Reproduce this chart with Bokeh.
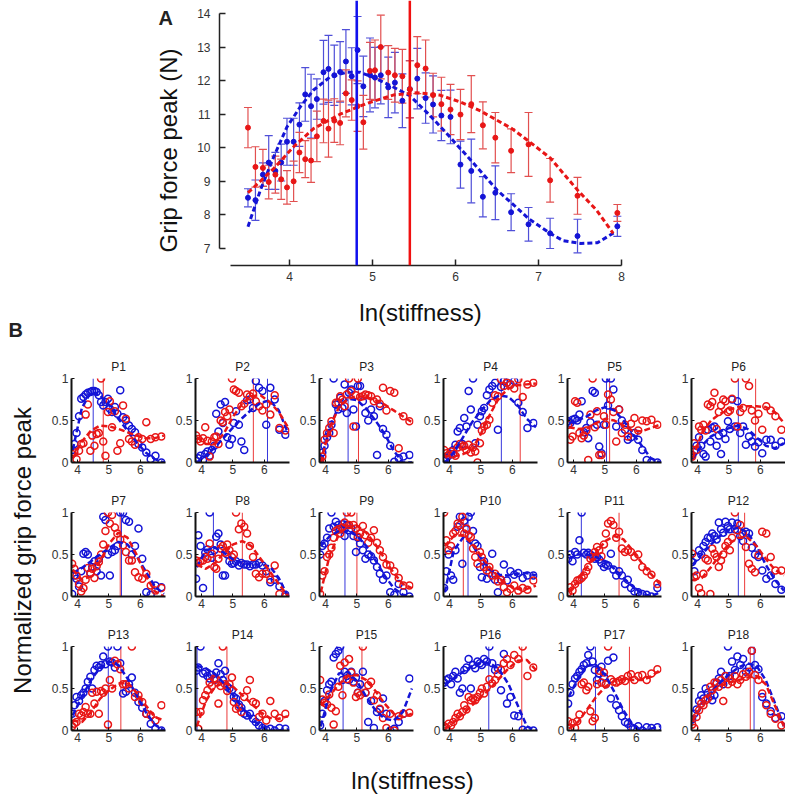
import math
from bokeh.plotting import figure
from bokeh.layouts import column, row
from bokeh.models import (Range1d, Label, Whisker, TeeHead, ColumnDataSource, Span,
                          FixedTicker, NumeralTickFormatter)
from bokeh.embed import file_html
from bokeh.resources import INLINE

FONT = "Liberation Sans"
BLUE = "#1414d6"
RED = "#e81616"
BLUE_BAR = "#4f4fd8"
RED_BAR = "#e25050"
AXIS = "#222222"

# ---------------- Panel A data ----------------
xa = [3.50, 3.59, 3.68, 3.75, 3.83, 3.90, 3.97, 4.05, 4.12, 4.19, 4.26, 4.33, 4.41, 4.47,
      4.54, 4.61, 4.68, 4.75, 4.82, 4.89, 4.97, 5.03, 5.10, 5.19, 5.27, 5.36, 5.45, 5.54,
      5.64, 5.73, 5.83, 5.94, 6.06, 6.19, 6.33, 6.48, 6.67, 6.88, 7.14, 7.47, 7.95]
ya_blue = [8.51, 8.44, 9.20, 9.56, 9.31, 9.56, 10.18, 10.18, 10.69, 11.59, 11.24, 11.45, 12.25,
           12.35, 12.16, 12.26, 12.57, 12.13, 12.91, 11.83, 12.17, 12.09, 12.16, 11.80, 11.94,
           11.40, 11.75, 12.06, 11.48, 11.29, 10.96, 10.92, 9.50, 9.31, 8.54, 8.66, 8.08, 7.72,
           7.45, 7.37, 7.66]
ea_blue = [0.27, 0.60, 0.35, 0.80, 0.55, 0.55, 0.70, 0.70, 0.65, 0.80, 0.95, 0.60, 0.95, 1.00,
           0.90, 0.90, 0.95, 0.85, 1.00, 0.90, 1.10, 0.90, 0.85, 0.90, 0.90, 0.80, 0.85, 0.90,
           0.75, 0.85, 0.75, 0.80, 0.70, 0.95, 0.60, 0.80, 0.55, 0.50, 0.45, 0.50, 0.30]
ya_red = [10.60, 9.43, 9.40, 8.98, 9.20, 9.06, 8.82, 9.00, 9.86, 9.66, 9.62, 10.34, 10.80, 10.57,
          10.81, 10.74, 11.62, 11.42, 11.24, 10.76, 12.29, 12.31, 13.00, 12.24, 12.16, 12.13,
          11.74, 12.46, 12.36, 11.57, 11.30, 11.14, 10.99, 11.30, 10.67, 10.30, 9.91, 10.10,
          9.03, 8.57, 8.06]
ea_red = [0.60, 0.60, 0.55, 0.50, 0.55, 0.60, 0.50, 0.60, 0.60, 0.55, 0.65, 0.75, 0.65, 0.85,
          0.65, 0.65, 0.70, 0.60, 0.75, 0.80, 0.85, 0.90, 0.95, 0.80, 0.80, 0.80, 0.85, 0.85,
          0.85, 0.65, 0.80, 0.75, 0.75, 0.85, 0.70, 0.75, 0.65, 0.95, 0.65, 0.55, 0.25]
fitA_blue_x = [3.50, 3.65, 3.81, 3.97, 4.13, 4.29, 4.49, 4.69, 4.85, 5.01, 5.25, 5.45, 5.69,
               5.93, 6.22, 6.50, 6.70, 6.88, 7.14, 7.30, 7.51, 7.71, 7.93]
fitA_blue_y = [7.65, 8.74, 9.73, 10.62, 11.22, 11.72, 12.11, 12.25, 12.25, 12.10, 11.81, 11.55,
               10.97, 10.33, 9.53, 8.74, 8.30, 7.89, 7.45, 7.23, 7.15, 7.17, 7.50]
fitA_red_x = [3.50, 3.81, 4.05, 4.29, 4.61, 4.93, 5.25, 5.53, 5.81, 6.05, 6.30, 6.50, 6.68,
              6.88, 7.14, 7.47, 7.70, 7.90]
fitA_red_y = [8.66, 9.38, 10.03, 10.57, 11.00, 11.32, 11.57, 11.64, 11.57, 11.37, 11.10, 10.82,
              10.57, 10.20, 9.70, 8.74, 8.14, 7.45]
peakA_blue = 4.81
peakA_red = 5.45
xa_ticks = [4, 5, 6, 7, 8]
ya_ticks = [7, 8, 9, 10, 11, 12, 13, 14]

# ---------------- Panel B data ----------------
titles = ["P%d" % k for k in range(1, 19)]
xb = [3.83, 3.90, 3.97, 4.05, 4.12, 4.19, 4.26, 4.33, 4.41, 4.47, 4.54, 4.61, 4.68, 4.75,
      4.82, 4.89, 4.97, 5.03, 5.10, 5.19, 5.27, 5.36, 5.45, 5.54, 5.64, 5.73, 5.83, 5.94,
      6.06, 6.19, 6.33, 6.48, 6.67]
fit_x = [3.85, 4.14, 4.43, 4.72, 5.01, 5.30, 5.59, 5.88, 6.17, 6.46, 6.75]
xb_ticks = [4, 5, 6]
yb_ticks = [0, 0.5, 1]

p1_blue = [0.15, 0.22, 0.35, 0.55, 0.76, 0.78, 0.81, 0.83, 0.84, 0.85, 0.85, 0.84, 0.80, 0.72, 0.68, 0.72, 0.76, 0.64, 0.60, 0.66, 0.58, 0.86, 0.54, 0.50, 0.44, 0.40, 0.36, 0.22, 0.18, 0.12, 0.04, 0.08, 0.00]
p1_red = [0.10, 0.12, 0.04, 0.14, 0.22, 0.23, 0.57, 0.69, 0.14, 0.32, 0.20, 0.34, 0.35, 1.00, 0.25, 0.08, 0.60, 0.73, 0.42, 0.61, 0.14, 0.23, 0.68, 0.52, 0.28, 0.25, 0.21, 0.30, 0.28, 0.48, 0.28, 0.30, 0.31]
p2_blue = [0.02, 0.05, 0.08, 0.03, 0.10, 0.13, 0.08, 0.15, 0.20, 0.58, 0.37, 0.69, 0.47, 0.72, 0.30, 0.21, 0.28, 0.47, 0.61, 0.45, 0.25, 0.15, 0.74, 0.75, 0.65, 0.97, 0.89, 0.85, 0.45, 0.89, 0.75, 0.39, 0.33]
p2_red = [0.32, 0.28, 0.25, 0.29, 0.42, 0.26, 0.07, 0.25, 0.30, 0.31, 0.22, 0.50, 0.48, 0.60, 0.55, 0.63, 1.00, 0.87, 0.85, 0.83, 0.67, 0.70, 0.81, 0.79, 0.82, 0.73, 0.67, 0.62, 0.69, 0.57, 0.80, 0.41, 0.38]
p3_blue = [0.05, 0.12, 0.20, 0.30, 0.35, 0.45, 1.00, 0.69, 0.63, 0.77, 0.65, 0.93, 0.59, 0.83, 0.87, 0.63, 0.43, 0.91, 0.91, 0.73, 0.59, 0.50, 0.63, 0.55, 0.09, 0.67, 0.40, 0.33, 0.20, 0.01, 0.05, 0.07, 0.09]
p3_red = [0.03, 0.07, 0.27, 0.35, 0.41, 0.49, 0.35, 0.71, 0.71, 0.79, 0.75, 0.67, 0.81, 1.00, 0.85, 0.43, 0.80, 1.00, 0.78, 0.79, 0.81, 0.80, 0.79, 0.73, 0.75, 0.70, 0.89, 0.62, 0.85, 0.83, 0.17, 0.55, 0.49]
p4_blue = [0.02, 0.05, 0.08, 0.10, 0.15, 0.21, 0.37, 0.41, 0.22, 0.53, 0.43, 0.85, 0.63, 1.00, 0.23, 0.45, 0.55, 0.61, 0.65, 0.80, 0.87, 0.91, 0.95, 0.39, 0.90, 0.97, 0.95, 0.93, 0.97, 0.71, 0.60, 0.41, 0.47]
p4_red = [0.15, 0.11, 0.09, 0.13, 0.10, 0.08, 0.18, 0.22, 0.19, 0.20, 0.15, 0.21, 0.12, 0.18, 0.13, 0.00, 0.23, 0.38, 0.43, 0.45, 0.51, 0.71, 0.80, 0.79, 0.99, 0.91, 0.95, 0.93, 0.88, 0.99, 0.78, 0.93, 0.95]
p5_blue = [0.49, 0.47, 0.51, 0.52, 0.50, 0.57, 0.73, 0.36, 0.41, 0.29, 0.48, 0.85, 0.83, 0.45, 0.19, 0.11, 0.45, 1.00, 0.68, 1.00, 0.87, 0.43, 0.63, 0.50, 0.39, 0.27, 0.30, 0.35, 0.27, 0.15, 0.03, 0.01, 0.00]
p5_red = [0.45, 0.27, 0.31, 0.73, 0.71, 0.35, 0.29, 0.32, 0.38, 0.03, 0.57, 1.00, 0.42, 0.61, 0.09, 0.09, 0.55, 0.45, 0.81, 0.75, 0.60, 0.25, 0.63, 0.35, 0.45, 0.31, 0.46, 0.53, 0.38, 0.50, 0.49, 0.51, 0.45]
p6_blue = [0.09, 0.13, 0.20, 0.30, 0.20, 0.10, 0.07, 0.39, 0.25, 0.41, 0.43, 0.20, 0.32, 0.10, 0.35, 0.28, 0.49, 0.40, 0.75, 0.43, 0.73, 0.35, 0.43, 0.21, 0.31, 0.25, 0.19, 0.24, 0.11, 0.27, 0.27, 0.20, 0.25]
p6_red = [0.07, 0.23, 0.15, 0.43, 0.39, 0.45, 0.38, 0.69, 0.67, 0.72, 0.83, 0.40, 0.60, 0.68, 0.75, 0.73, 0.60, 0.62, 0.76, 1.00, 0.43, 0.60, 0.65, 1.00, 0.91, 0.62, 0.50, 0.58, 0.39, 0.67, 0.62, 0.55, 0.39]
p7_blue = [0.03, 0.25, 0.21, 0.12, 0.30, 0.51, 0.53, 0.50, 0.28, 0.35, 0.42, 0.30, 0.45, 0.25, 0.95, 0.91, 0.50, 0.25, 0.53, 0.55, 0.60, 1.00, 1.00, 0.91, 0.89, 0.50, 0.60, 0.81, 0.45, 0.05, 0.02, 0.13, 0.11]
p7_red = [0.39, 0.33, 0.25, 0.15, 0.06, 0.10, 0.20, 0.34, 0.27, 0.33, 0.22, 0.36, 0.41, 0.50, 0.62, 0.78, 1.00, 0.87, 0.97, 0.82, 0.75, 0.68, 0.61, 0.53, 0.43, 0.43, 0.29, 0.23, 0.21, 0.27, 0.13, 0.07, 0.10]
p8_blue = [0.21, 0.73, 0.60, 0.10, 0.52, 0.56, 1.00, 0.46, 0.55, 0.71, 0.75, 0.62, 0.25, 0.25, 0.50, 0.42, 0.39, 0.40, 0.42, 0.37, 0.40, 0.38, 0.38, 0.36, 0.38, 0.38, 0.40, 0.37, 0.30, 0.17, 0.20, 0.12, 0.02]
p8_red = [0.43, 0.40, 0.42, 0.43, 0.47, 0.45, 0.63, 0.51, 0.35, 0.33, 0.45, 0.57, 0.60, 0.52, 0.62, 0.55, 0.47, 0.50, 1.00, 0.80, 0.87, 0.83, 0.75, 0.60, 0.47, 0.27, 0.23, 0.27, 0.27, 0.20, 0.37, 0.03, 0.00]
p9_blue = [0.50, 0.60, 0.63, 0.70, 0.81, 1.00, 0.83, 0.89, 0.85, 0.80, 0.86, 0.72, 0.85, 0.79, 0.81, 0.72, 0.53, 0.70, 0.63, 0.55, 0.45, 0.50, 0.48, 0.43, 0.35, 0.27, 0.20, 0.25, 0.05, 0.02, 0.15, 0.05, 0.00]
p9_red = [0.03, 0.25, 0.30, 0.47, 0.50, 0.58, 0.70, 0.78, 0.80, 0.75, 0.82, 0.88, 1.00, 0.85, 1.00, 0.85, 0.81, 0.71, 0.75, 0.84, 0.73, 0.64, 0.70, 0.79, 0.64, 0.55, 0.47, 0.38, 0.37, 0.30, 0.22, 0.13, 0.13]
p10_blue = [0.10, 0.30, 0.50, 0.25, 0.20, 0.55, 0.83, 0.95, 0.39, 0.90, 0.80, 0.95, 1.00, 0.78, 0.63, 0.60, 0.35, 0.23, 0.42, 0.21, 0.28, 0.51, 0.20, 0.05, 0.20, 0.38, 0.19, 0.30, 0.26, 0.28, 0.22, 0.25, 0.25]
p10_red = [1.00, 0.67, 0.55, 0.60, 0.75, 0.78, 0.87, 0.85, 0.95, 0.75, 0.81, 0.73, 0.71, 0.57, 0.47, 0.39, 0.53, 0.47, 0.35, 0.31, 0.35, 0.25, 0.27, 0.18, 0.20, 0.11, 0.05, 0.09, 0.13, 0.07, 0.10, 0.08, 0.19]
p11_blue = [0.45, 0.50, 0.42, 0.53, 0.50, 0.67, 1.00, 0.52, 0.50, 0.52, 0.50, 0.48, 0.45, 0.47, 0.44, 0.40, 0.35, 0.38, 0.37, 0.51, 0.32, 0.25, 0.30, 0.25, 0.15, 0.20, 0.10, 0.06, 0.05, 0.03, 0.02, 0.00, 0.10]
p11_red = [0.05, 0.11, 0.07, 0.15, 0.19, 0.20, 0.22, 0.25, 0.30, 0.35, 0.45, 0.47, 0.53, 0.59, 0.55, 0.48, 0.62, 0.75, 0.87, 0.90, 0.85, 0.70, 0.77, 0.57, 0.53, 0.55, 0.53, 0.47, 0.50, 0.35, 0.30, 0.26, 0.15]
p12_blue = [0.41, 0.30, 0.47, 0.55, 0.50, 0.60, 0.65, 0.70, 0.70, 0.75, 0.72, 0.68, 0.88, 0.80, 0.76, 0.89, 0.84, 0.80, 0.88, 0.80, 0.87, 0.72, 0.66, 0.77, 0.75, 0.58, 0.50, 0.47, 0.31, 0.21, 0.25, 0.15, 0.08]
p12_red = [0.51, 0.23, 0.25, 0.10, 0.04, 0.27, 0.45, 0.43, 0.03, 0.57, 0.51, 0.47, 0.35, 0.43, 0.50, 0.60, 0.65, 0.55, 0.70, 1.00, 0.79, 0.85, 0.75, 0.59, 0.39, 0.33, 0.29, 0.49, 0.77, 0.75, 0.47, 0.31, 0.31]
p13_blue = [0.20, 0.30, 0.40, 0.35, 0.42, 0.45, 0.50, 0.58, 0.64, 0.50, 0.72, 0.77, 0.75, 0.78, 0.88, 0.79, 1.00, 0.82, 0.81, 0.75, 1.00, 0.80, 0.44, 0.46, 0.55, 0.63, 0.45, 0.34, 0.27, 0.20, 0.08, 0.02, 0.00]
p13_red = [0.05, 0.08, 0.10, 0.20, 0.18, 0.22, 0.28, 0.20, 0.20, 0.45, 0.32, 0.46, 0.20, 0.47, 0.45, 0.50, 0.07, 0.60, 0.50, 0.83, 0.79, 0.73, 0.55, 0.55, 0.50, 1.00, 0.40, 0.42, 0.34, 0.20, 0.18, 0.12, 0.30]
p14_blue = [0.71, 0.75, 1.00, 0.68, 0.70, 0.65, 0.62, 0.66, 0.60, 0.69, 0.80, 0.67, 0.60, 0.71, 0.52, 0.50, 0.48, 0.40, 0.38, 0.31, 0.27, 0.20, 0.18, 0.20, 0.14, 0.10, 0.06, 0.03, 0.01, 0.02, 0.00, 0.03, 0.02]
p14_red = [0.22, 0.02, 0.22, 0.36, 0.42, 0.48, 0.57, 0.53, 0.62, 0.61, 0.32, 0.53, 1.00, 0.55, 0.47, 0.55, 0.63, 0.34, 0.26, 0.28, 0.22, 0.40, 0.48, 0.60, 0.34, 0.32, 0.16, 0.20, 0.12, 0.35, 0.20, 0.15, 0.20]
p15_blue = [0.06, 0.20, 0.35, 0.48, 0.55, 0.58, 0.87, 0.91, 0.95, 1.00, 0.60, 0.70, 0.65, 0.60, 0.70, 0.58, 0.63, 0.45, 0.55, 0.70, 0.45, 0.10, 0.35, 0.03, 0.22, 0.25, 0.38, 0.20, 0.00, 0.02, 0.10, 0.20, 0.62]
p15_red = [0.60, 0.37, 0.33, 0.31, 0.43, 0.27, 0.07, 0.23, 0.52, 0.77, 0.42, 0.81, 0.61, 0.85, 0.69, 0.57, 0.40, 0.45, 0.42, 1.00, 0.45, 0.54, 0.58, 0.36, 0.42, 0.26, 0.15, 0.03, 0.20, 0.00, 0.17, 0.20, 0.21]
p16_blue = [0.57, 0.60, 0.62, 0.55, 0.65, 0.70, 0.62, 0.45, 0.50, 0.72, 0.75, 0.85, 0.50, 0.78, 0.74, 0.82, 0.80, 0.78, 0.85, 0.82, 1.00, 0.80, 0.72, 0.74, 0.48, 0.91, 0.32, 0.40, 0.18, 0.17, 0.01, 0.00, 0.00]
p16_red = [0.05, 0.03, 0.08, 0.06, 0.10, 0.15, 0.20, 0.17, 0.22, 0.30, 0.25, 0.40, 0.36, 0.38, 0.36, 0.40, 0.45, 0.50, 0.44, 0.52, 0.61, 0.56, 0.60, 0.67, 0.72, 0.80, 0.85, 0.78, 0.90, 0.85, 1.00, 0.65, 0.75]
p17_blue = [0.32, 0.45, 0.55, 0.62, 0.65, 0.70, 0.73, 0.78, 0.80, 0.90, 1.00, 0.82, 0.72, 0.60, 0.68, 0.76, 0.64, 0.55, 0.83, 0.38, 0.87, 0.30, 0.24, 0.17, 0.10, 0.08, 0.04, 0.02, 0.05, 0.00, 0.04, 0.03, 0.04]
p17_red = [0.11, 0.03, 0.09, 0.03, 0.11, 0.19, 0.55, 0.57, 0.48, 0.52, 0.23, 0.11, 0.15, 0.55, 0.71, 0.57, 0.69, 0.55, 1.00, 0.61, 0.58, 0.57, 0.59, 0.61, 0.59, 0.65, 0.67, 0.60, 0.65, 0.66, 0.60, 0.68, 0.73]
p18_blue = [0.13, 0.20, 0.25, 0.35, 0.42, 0.38, 0.50, 0.45, 0.41, 0.36, 0.42, 0.57, 0.62, 0.70, 0.55, 0.65, 1.00, 0.65, 0.82, 0.72, 0.88, 0.78, 0.85, 0.70, 0.75, 0.95, 0.78, 0.73, 0.40, 0.32, 0.23, 0.15, 0.17]
p18_red = [0.07, 0.03, 0.16, 0.24, 0.32, 0.30, 0.36, 0.38, 0.52, 0.48, 0.57, 0.56, 0.52, 0.60, 0.35, 0.65, 0.55, 0.62, 0.58, 0.65, 0.55, 0.60, 0.67, 0.64, 0.70, 0.95, 0.66, 0.60, 0.44, 0.30, 0.20, 0.14, 0.06]

p1_blue_fit = [0.15, 0.65, 0.84, 0.80, 0.68, 0.52, 0.38, 0.24, 0.12, 0.04, 0.00]
p1_red_fit = [0.05, 0.25, 0.38, 0.44, 0.43, 0.40, 0.36, 0.32, 0.29, 0.29, 0.32]
p2_blue_fit = [0.00, 0.08, 0.18, 0.30, 0.42, 0.53, 0.63, 0.71, 0.74, 0.62, 0.35]
p2_red_fit = [0.30, 0.22, 0.22, 0.35, 0.55, 0.70, 0.79, 0.80, 0.72, 0.60, 0.42]
p3_blue_fit = [0.02, 0.42, 0.68, 0.76, 0.74, 0.64, 0.50, 0.34, 0.14, 0.00, 0.00]
p3_red_fit = [0.00, 0.42, 0.66, 0.76, 0.79, 0.78, 0.74, 0.69, 0.62, 0.55, 0.48]
p4_blue_fit = [0.00, 0.12, 0.30, 0.48, 0.62, 0.74, 0.80, 0.78, 0.68, 0.52, 0.42]
p4_red_fit = [0.08, 0.07, 0.10, 0.15, 0.35, 0.58, 0.78, 0.88, 0.92, 0.93, 0.94]
p5_blue_fit = [0.47, 0.50, 0.55, 0.62, 0.66, 0.62, 0.50, 0.35, 0.20, 0.05, 0.00]
p5_red_fit = [0.42, 0.40, 0.41, 0.47, 0.52, 0.50, 0.44, 0.38, 0.37, 0.41, 0.45]
p6_blue_fit = [0.05, 0.20, 0.31, 0.37, 0.41, 0.44, 0.40, 0.30, 0.20, 0.17, 0.23]
p6_red_fit = [0.05, 0.35, 0.50, 0.58, 0.63, 0.66, 0.67, 0.67, 0.66, 0.60, 0.47]
p7_blue_fit = [0.28, 0.34, 0.42, 0.50, 0.58, 0.65, 0.62, 0.48, 0.30, 0.12, 0.03]
p7_red_fit = [0.32, 0.20, 0.24, 0.42, 0.63, 0.76, 0.70, 0.50, 0.25, 0.06, 0.00]
p8_blue_fit = [0.35, 0.55, 0.58, 0.52, 0.44, 0.40, 0.38, 0.38, 0.36, 0.22, 0.00]
p8_red_fit = [0.38, 0.33, 0.40, 0.52, 0.62, 0.66, 0.60, 0.45, 0.30, 0.15, 0.00]
p9_blue_fit = [0.60, 0.72, 0.78, 0.78, 0.72, 0.60, 0.43, 0.25, 0.10, 0.02, 0.00]
p9_red_fit = [0.05, 0.50, 0.74, 0.84, 0.84, 0.76, 0.62, 0.45, 0.28, 0.15, 0.10]
p10_blue_fit = [0.05, 0.55, 0.70, 0.62, 0.45, 0.32, 0.26, 0.25, 0.27, 0.28, 0.25]
p10_red_fit = [0.60, 0.72, 0.73, 0.63, 0.48, 0.34, 0.22, 0.13, 0.09, 0.09, 0.13]
p11_blue_fit = [0.45, 0.50, 0.50, 0.47, 0.42, 0.33, 0.22, 0.12, 0.04, 0.00, 0.05]
p11_red_fit = [0.05, 0.18, 0.35, 0.52, 0.66, 0.72, 0.68, 0.55, 0.40, 0.27, 0.15]
p12_blue_fit = [0.38, 0.50, 0.62, 0.72, 0.79, 0.82, 0.76, 0.60, 0.38, 0.20, 0.07]
p12_red_fit = [0.20, 0.22, 0.35, 0.50, 0.63, 0.70, 0.70, 0.60, 0.45, 0.32, 0.25]
p13_blue_fit = [0.18, 0.40, 0.60, 0.75, 0.82, 0.78, 0.62, 0.42, 0.22, 0.07, 0.00]
p13_red_fit = [0.12, 0.10, 0.22, 0.38, 0.48, 0.56, 0.57, 0.45, 0.30, 0.16, 0.12]
p14_blue_fit = [0.77, 0.74, 0.67, 0.56, 0.42, 0.27, 0.14, 0.05, 0.00, 0.00, 0.02]
p14_red_fit = [0.05, 0.35, 0.52, 0.57, 0.52, 0.42, 0.32, 0.22, 0.15, 0.14, 0.17]
p15_blue_fit = [0.05, 0.45, 0.68, 0.70, 0.58, 0.40, 0.24, 0.14, 0.12, 0.22, 0.50]
p15_red_fit = [0.30, 0.42, 0.55, 0.65, 0.66, 0.60, 0.47, 0.32, 0.20, 0.16, 0.20]
p16_blue_fit = [0.55, 0.62, 0.70, 0.77, 0.81, 0.80, 0.72, 0.55, 0.30, 0.05, 0.00]
p16_red_fit = [0.02, 0.10, 0.20, 0.30, 0.40, 0.50, 0.62, 0.74, 0.83, 0.84, 0.72]
p17_blue_fit = [0.40, 0.62, 0.77, 0.78, 0.66, 0.46, 0.24, 0.07, 0.00, 0.02, 0.05]
p17_red_fit = [0.02, 0.10, 0.25, 0.40, 0.52, 0.59, 0.61, 0.60, 0.60, 0.64, 0.72]
p18_blue_fit = [0.12, 0.30, 0.45, 0.57, 0.67, 0.75, 0.80, 0.77, 0.60, 0.33, 0.05]
p18_red_fit = [0.12, 0.30, 0.45, 0.53, 0.57, 0.60, 0.63, 0.65, 0.55, 0.30, 0.05]

peak_blue = [4.50, 6.10, 4.72, 5.65, 5.05, 5.30, 5.40, 4.38, 4.62, 4.59, 4.25, 5.30,
             4.98, 3.86, 4.56, 5.25, 4.70, 5.80]
peak_red = [4.82, 5.65, 5.05, 6.25, 5.15, 5.85, 5.36, 5.30, 5.00, 4.44, 5.45, 5.50,
            5.38, 4.81, 5.16, 6.30, 5.78, 5.68]

blue_pts = [p1_blue, p2_blue, p3_blue, p4_blue, p5_blue, p6_blue, p7_blue, p8_blue, p9_blue,
            p10_blue, p11_blue, p12_blue, p13_blue, p14_blue, p15_blue, p16_blue, p17_blue, p18_blue]
red_pts = [p1_red, p2_red, p3_red, p4_red, p5_red, p6_red, p7_red, p8_red, p9_red,
           p10_red, p11_red, p12_red, p13_red, p14_red, p15_red, p16_red, p17_red, p18_red]
blue_fits = [p1_blue_fit, p2_blue_fit, p3_blue_fit, p4_blue_fit, p5_blue_fit, p6_blue_fit,
             p7_blue_fit, p8_blue_fit, p9_blue_fit, p10_blue_fit, p11_blue_fit, p12_blue_fit,
             p13_blue_fit, p14_blue_fit, p15_blue_fit, p16_blue_fit, p17_blue_fit, p18_blue_fit]
red_fits = [p1_red_fit, p2_red_fit, p3_red_fit, p4_red_fit, p5_red_fit, p6_red_fit,
            p7_red_fit, p8_red_fit, p9_red_fit, p10_red_fit, p11_red_fit, p12_red_fit,
            p13_red_fit, p14_red_fit, p15_red_fit, p16_red_fit, p17_red_fit, p18_red_fit]


def blank(w, h, bottom=0):
    f = figure(width=w, height=h, x_range=Range1d(0, w), y_range=Range1d(bottom, h),
               x_axis_type=None, y_axis_type=None, min_border=0, min_border_bottom=bottom,
               output_backend="svg", toolbar_location=None)
    f.outline_line_color = None
    f.background_fill_color = None
    f.border_fill_color = None
    return f


# ---------------- Panel A ----------------
TOP_H = 290          # plot strip height (frame spans 0..265)
BOT_A = 25           # bottom border under panel A frame
LEFT_W = 190
pAL = blank(LEFT_W, TOP_H, BOT_A)   # data y = TOP_H - page_y
pAL.add_layout(Label(x=158, y=TOP_H - 6, text="A", text_font=FONT, text_font_style="bold",
                     text_font_size="20px", text_align="left", text_baseline="top",
                     text_color="#222222"))
pAL.add_layout(Label(x=168, y=TOP_H - 150, text="Grip force peak (N)", angle=math.pi / 2,
                     text_align="center", text_baseline="middle", text_font=FONT,
                     text_font_size="24px", text_color="#111111"))

A_W = 788 - LEFT_W
pA = figure(width=A_W, height=TOP_H, x_range=Range1d(3.157, 8.012), y_range=Range1d(6.493, 14.387),
            output_backend="svg", toolbar_location=None,
            min_border_left=219 - LEFT_W, min_border_right=788 - 622, min_border_top=0,
            min_border_bottom=BOT_A)
pA.outline_line_color = None
pA.grid.visible = False
pA.background_fill_color = None
pA.border_fill_color = None
for ax in pA.axis:
    ax.axis_line_color = AXIS
    ax.axis_line_width = 1.5
    ax.major_tick_line_color = AXIS
    ax.major_tick_line_width = 1.5
    ax.major_tick_in = 6
    ax.major_tick_out = 0
    ax.minor_tick_line_color = None
    ax.major_label_text_font = FONT
    ax.major_label_text_font_size = "12px"
    ax.major_label_text_color = "#333333"
pA.xaxis.ticker = FixedTicker(ticks=xa_ticks)
pA.yaxis.ticker = FixedTicker(ticks=ya_ticks)
pA.xaxis.bounds = (3.29, 8.0)
pA.yaxis.bounds = (7, 14)
pA.xaxis.major_label_standoff = 6
pA.yaxis.major_label_standoff = 9

srcAb = ColumnDataSource(dict(x=xa, y=ya_blue,
                              lo=[v - e for v, e in zip(ya_blue, ea_blue)],
                              hi=[v + e for v, e in zip(ya_blue, ea_blue)]))
srcAr = ColumnDataSource(dict(x=xa, y=ya_red,
                              lo=[v - e for v, e in zip(ya_red, ea_red)],
                              hi=[v + e for v, e in zip(ya_red, ea_red)]))
for src, col in ((srcAb, BLUE_BAR), (srcAr, RED_BAR)):
    w = Whisker(source=src, base="x", lower="lo", upper="hi", line_color=col, line_width=1.2,
                lower_head=TeeHead(size=8, line_color=col, line_width=1.2),
                upper_head=TeeHead(size=8, line_color=col, line_width=1.2))
    pA.add_layout(w)
pA.scatter("x", "y", source=srcAb, size=5, color=BLUE)
pA.scatter("x", "y", source=srcAr, size=5, color=RED)
pA.line(fitA_blue_x, fitA_blue_y, line_color=BLUE, line_width=3, line_dash="5 3")
pA.line(fitA_red_x, fitA_red_y, line_color=RED, line_width=3, line_dash="5 3")
pA.add_layout(Span(location=peakA_blue, dimension="height", line_color="#1010ee", line_width=2.5))
pA.add_layout(Span(location=peakA_red, dimension="height", line_color="#f01010", line_width=2.5))

# strip under panel A: its x label and the "B" panel letter
MID_H = 55           # page y 290..345
pMid = blank(788, MID_H)
pMid.add_layout(Label(x=420, y=MID_H - (312 - TOP_H), text="ln(stiffness)", text_align="center",
                      text_baseline="middle", text_font=FONT, text_font_size="24px",
                      text_color="#111111"))
pMid.add_layout(Label(x=8, y=MID_H - (318 - TOP_H), text="B", text_font=FONT,
                      text_font_style="bold", text_font_size="20px", text_align="left",
                      text_baseline="top", text_color="#222222"))

# ---------------- Panel B ----------------
cells = []
for i in range(18):
    c = i % 6
    w = 122 if c == 5 else 124
    p = figure(width=w, height=134, x_range=Range1d(3.81, 6.8), y_range=Range1d(0, 1),
               title=titles[i], output_backend="svg", toolbar_location=None,
               min_border_left=28, min_border_right=w - 28 - 94, min_border_top=33,
               min_border_bottom=17)
    p.outline_line_color = None
    p.grid.visible = False
    p.background_fill_color = None
    p.border_fill_color = None
    p.title.align = "center"
    p.title.text_font = FONT
    p.title.text_font_size = "12px"
    p.title.text_font_style = "normal"
    p.title.text_color = "#222222"
    for ax in p.axis:
        ax.axis_line_color = "#111111"
        ax.axis_line_width = 2
        ax.major_tick_line_color = "#111111"
        ax.major_tick_in = 3
        ax.major_tick_out = 0
        ax.minor_tick_line_color = None
        ax.major_label_text_font = FONT
        ax.major_label_text_font_size = "12px"
        ax.major_label_text_color = "#333333"
    p.xaxis.ticker = FixedTicker(ticks=xb_ticks)
    p.yaxis.ticker = FixedTicker(ticks=yb_ticks)
    p.yaxis.formatter = NumeralTickFormatter(format="0.[0]")
    p.xaxis.major_label_standoff = 2
    p.yaxis.major_label_standoff = 3
    p.add_layout(Span(location=peak_blue[i], dimension="height", line_color=BLUE,
                      line_width=1, line_alpha=0.85, level="underlay"))
    p.add_layout(Span(location=peak_red[i], dimension="height", line_color=RED,
                      line_width=1, line_alpha=0.85, level="underlay"))
    p.scatter(xb, blue_pts[i], marker="circle", size=7, fill_color=None,
              line_color=BLUE, line_width=1.5)
    p.scatter(xb, red_pts[i], marker="circle", size=7, fill_color=None,
              line_color=RED, line_width=1.5)
    p.line(fit_x, blue_fits[i], line_color=BLUE, line_width=2.5, line_dash="6 3")
    p.line(fit_x, red_fits[i], line_color=RED, line_width=2.5, line_dash="6 3")
    cells.append(p)

grid = column(*[row(*cells[r * 6:(r + 1) * 6]) for r in range(3)])

pLeft = blank(43, 402)
pLeft.add_layout(Label(x=22, y=197, text="Normalized grip force peak", angle=math.pi / 2,
                       text_align="center", text_baseline="middle", text_font=FONT,
                       text_font_size="24px", text_color="#111111"))

pBottom = blank(788, 50)
pBottom.add_layout(Label(x=412, y=50 - (780 - 747), text="ln(stiffness)", text_align="center",
                         text_baseline="middle", text_font=FONT, text_font_size="24px",
                         text_color="#111111"))

layout = column(row(pAL, pA), pMid, row(pLeft, grid), pBottom)
open("out.html", "w").write(file_html(layout, INLINE))
